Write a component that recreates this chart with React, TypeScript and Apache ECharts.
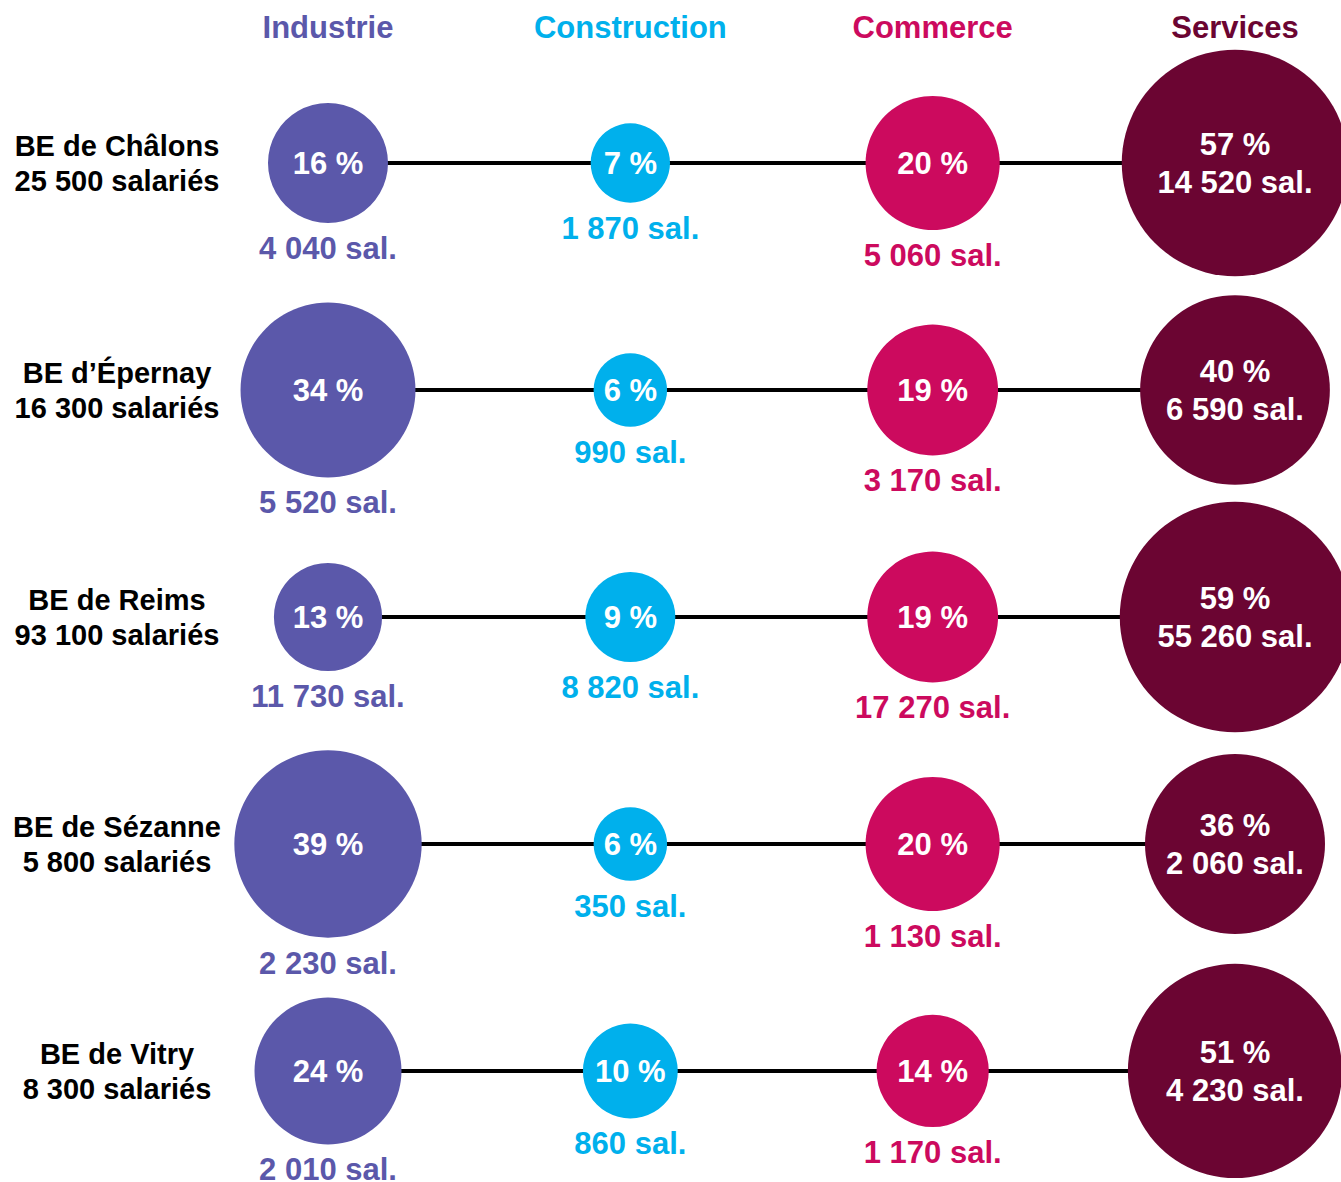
import React, { useEffect, useRef } from "react";
import * as echarts from "echarts";

const sectors = ["Industrie", "Construction", "Commerce", "Services"];
const sectorColors = ["#5b58aa", "#00b0ec", "#cc0a5e", "#6b0532"];
const rows = ["BE de Châlons", "BE d’Épernay", "BE de Reims", "BE de Sézanne", "BE de Vitry"];
const rowTotals = [25500, 16300, 93100, 5800, 8300];

const pctIndustrie = [16, 34, 13, 39, 24];
const pctConstruction = [7, 6, 9, 6, 10];
const pctCommerce = [20, 19, 19, 20, 14];
const pctServices = [57, 40, 59, 36, 51];

const salIndustrie = [4040, 5520, 11730, 2230, 2010];
const salConstruction = [1870, 990, 8820, 350, 860];
const salCommerce = [5060, 3170, 17270, 1130, 1170];
const salServices = [14520, 6590, 55260, 2060, 4230];

const pcts = [pctIndustrie, pctConstruction, pctCommerce, pctServices];
const sals = [salIndustrie, salConstruction, salCommerce, salServices];

const FONT = "'Liberation Sans', Arial, Helvetica, sans-serif";

const fmt = (n: number) => String(n).replace(/\B(?=(\d{3})+(?!\d))/g, " ");

export default function App() {
  const ref = useRef<HTMLDivElement>(null);
  useEffect(() => {
    if (!ref.current) return;
    const chart = echarts.init(ref.current, null, { renderer: "svg" });
    const size = (p: number) => 30 * Math.sqrt(p);

    const series: any[] = [];
    rows.forEach((_, r) => {
      series.push({
        type: "line",
        data: [[0, r], [3, r]],
        symbol: "none",
        silent: true,
        z: 1,
        lineStyle: { color: "#000", width: 4 },
      });
    });
    sectors.forEach((s, c) => {
      const isServices = c === 3;
      series.push({
        type: "scatter",
        name: s,
        z: 3,
        silent: true,
        data: rows.map((_, r) => [c, r, pcts[c][r], sals[c][r]]),
        symbolSize: (v: number[]) => size(v[2]),
        itemStyle: { color: sectorColors[c], opacity: 1 },
        label: {
          show: true,
          position: "inside",
          color: "#fff",
          fontFamily: FONT,
          fontWeight: "bold",
          fontSize: 31,
          lineHeight: 38,
          formatter: (p: any) =>
            isServices
              ? `${p.value[2]} %\n${fmt(p.value[3])} sal.`
              : `${p.value[2]} %`,
        },
      });
      if (!isServices) {
        series.push({
          type: "scatter",
          name: s + " sal",
          z: 2,
          silent: true,
          data: rows.map((_, r) => [c, r, pcts[c][r], sals[c][r]]),
          symbolSize: (v: number[]) => size(v[2]),
          itemStyle: { color: "rgba(0,0,0,0)", opacity: 1 },
          label: {
            show: true,
            position: "bottom",
            distance: 10,
            color: sectorColors[c],
            fontFamily: FONT,
            fontWeight: "bold",
            fontSize: 31,
            lineHeight: 31,
            formatter: (p: any) => `${fmt(p.value[3])} sal.`,
          },
        });
      }
    });

    const rich: any = {};
    sectors.forEach((_, i) => {
      rich["s" + i] = {
        color: sectorColors[i],
        fontFamily: FONT,
        fontWeight: "bold",
        fontSize: 31,
        lineHeight: 31,
      };
    });

    chart.setOption({
      animation: false,
      backgroundColor: "#fff",
      grid: { left: 328, right: 106, top: 163, bottom: 111, containLabel: false },
      xAxis: {
        type: "category",
        data: sectors,
        position: "top",
        boundaryGap: false,
        axisLine: { show: false },
        axisTick: { show: false },
        splitLine: { show: false },
        axisLabel: {
          interval: 0,
          margin: 120,
          formatter: (v: string, i: number) => `{s${i}|${v}}`,
          rich,
        },
      },
      yAxis: {
        type: "category",
        data: rows,
        inverse: true,
        boundaryGap: false,
        axisLine: { show: false },
        axisTick: { show: false },
        splitLine: { show: false },
        axisLabel: {
          interval: 0,
          margin: 211,
          align: "center",
          color: "#000",
          fontFamily: FONT,
          fontWeight: "bold",
          fontSize: 29,
          lineHeight: 35,
          formatter: (v: string, i: number) => `${v}\n${fmt(rowTotals[i])} salariés`,
        },
      },
      series,
    });
    return () => chart.dispose();
  }, []);
  return (
    <div
      ref={ref}
      style={{ position: "fixed", left: 0, top: 0, width: 1341, height: 1182 }}
    />
  );
}
